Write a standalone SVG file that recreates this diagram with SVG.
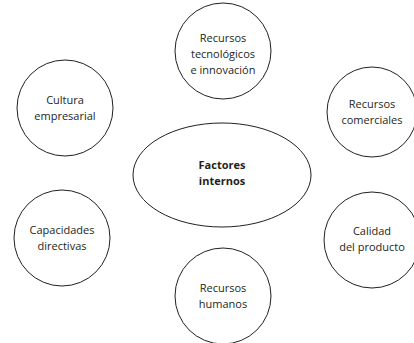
<svg xmlns="http://www.w3.org/2000/svg" width="414" height="343" viewBox="0 0 414 343">
<style>
.n{fill:#fff;stroke:#231f20;stroke-width:1}
text{font-family:"Open Sans","Liberation Sans",sans-serif;font-size:11px;fill:#231f20;text-anchor:middle}
.b{font-weight:bold}
</style>
<rect width="414" height="343" fill="#fff"/>
<g id="connectors"></g>
<g id="center"><ellipse class="n" cx="222" cy="175" rx="89" ry="52"/><text class="b" x="222" y="169">Factores</text><text class="b" x="222" y="185">internos</text></g>
<g id="tec"><circle class="n" cx="223" cy="51" r="48"/><text x="223" y="42">Recursos</text><text x="223" y="58">tecnológicos</text><text x="223" y="74">e innovación</text></g>
<g id="cultura"><circle class="n" cx="65" cy="108" r="48"/><text x="65" y="104">Cultura</text><text x="65" y="120">empresarial</text></g>
<g id="comerciales"><circle class="n" cx="372" cy="112" r="45"/><text x="372" y="108">Recursos</text><text x="372" y="124">comerciales</text></g>
<g id="capacidades"><circle class="n" cx="62" cy="238" r="48"/><text x="62" y="234">Capacidades</text><text x="62" y="250">directivas</text></g>
<g id="calidad"><circle class="n" cx="372" cy="240" r="48"/><text x="372" y="235">Calidad</text><text x="372" y="251">del producto</text></g>
<g id="humanos"><circle class="n" cx="223" cy="296" r="48"/><text x="223" y="292">Recursos</text><text x="223" y="308">humanos</text></g>
</svg>
